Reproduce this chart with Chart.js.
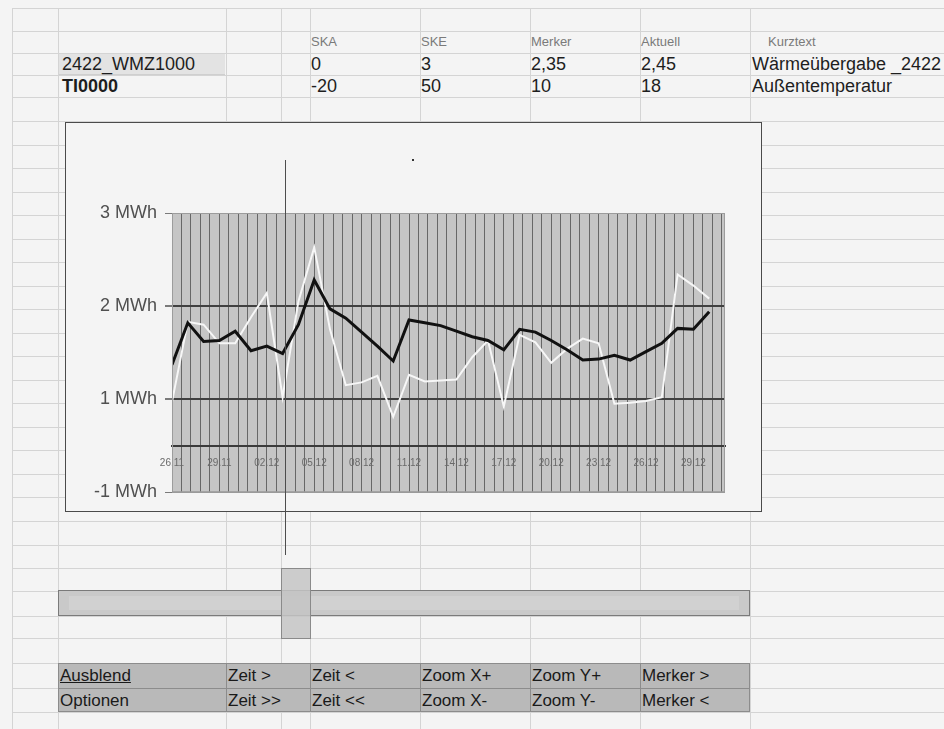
<!DOCTYPE html>
<html>
<head>
<meta charset="utf-8">
<script src="https://cdn.jsdelivr.net/npm/chart.js@4.4.1/dist/chart.umd.min.js"></script>
<style>
  html, body { margin: 0; padding: 0; width: 944px; height: 729px; overflow: hidden; background: #f4f4f4;
    font-family: "Liberation Sans", Arial, sans-serif; }
  #sheet { position: absolute; left: 0; top: 0; width: 944px; height: 729px; }
  .hl { position: absolute; height: 1px; background: #d4d4d4; }
  .vl { position: absolute; width: 1px; background: #d4d4d4; }
  .txt { position: absolute; white-space: nowrap; line-height: 1; color: #1e1e1e; }
  .hdr { font-size: 13px; color: #7a7a7a; }
  .val { font-size: 18px; }
  .sel { position: absolute; left: 59px; top: 54px; width: 166px; height: 20px; background: #e3e3e3;
    border-bottom: 1px solid #cfcfcf; }
  #chartBox { position: absolute; left: 65px; top: 122px; width: 695px; height: 388px;
    border: 1px solid #4a4a4a; background: #f4f4f4; }
  #chartBox canvas { position: absolute; left: 0; top: 0; }
  #cursor { position: absolute; top: 160px; height: 395px; width: 1px; background: #4d4d4d; }
  #dot { position: absolute; left: 412px; top: 159px; width: 2px; height: 2px; background: #333; }
  #scrollBar { position: absolute; left: 58px; top: 590px; width: 690px; height: 24px;
    background: #c9c9c9; border: 1px solid #7a7a7a; }
  #scrollBar div { position: absolute; left: 10px; right: 10px; top: 5px; bottom: 5px; background: #d1d1d1; }
  #thumb { position: absolute; left: 281px; top: 568px; width: 28px; height: 69px;
    background: rgba(196, 196, 196, 0.85); border: 1px solid #8a8a8a; }
  #buttons { position: absolute; left: 58px; top: 663px; width: 692px; height: 49px; background: #b9b9b9; }
  .bl { position: absolute; background: #8c8c8c; }
  .btn { position: absolute; font-size: 17px; color: #1a1a1a; white-space: nowrap; line-height: 1; }
</style>
</head>
<body>
<div id="sheet"></div>
<div class="sel"></div>
<div id="chartBox"><canvas id="c" width="695" height="388"></canvas></div>
<div id="cursor"></div>
<div id="dot"></div>
<div id="scrollBar"><div></div></div>
<div id="thumb"></div>
<div id="buttons"></div>
<script>
// ---- data: daily values from 26.11 to 30.12 (MWh axis units) ----
const dateLabels = ['26.11', '29.11', '02.12', '05.12', '08.12', '11.12',
                    '14.12', '17.12', '20.12', '23.12', '26.12', '29.12'];
const waermeWMZ = [1.37, 1.82, 1.62, 1.63, 1.73, 1.52, 1.57, 1.49, 1.80, 2.28,
                   1.97, 1.87, 1.72, 1.57, 1.41, 1.85, 1.82, 1.79, 1.73, 1.67,
                   1.63, 1.53, 1.75, 1.72, 1.63, 1.53, 1.42, 1.43, 1.47, 1.42,
                   1.51, 1.60, 1.76, 1.75, 1.94];
const aussenTemp = [0.97, 1.83, 1.80, 1.60, 1.60, 1.88, 2.14, 1.02, 2.05, 2.63,
                    1.75, 1.15, 1.18, 1.25, 0.81, 1.26, 1.19, 1.20, 1.21, 1.45,
                    1.63, 0.92, 1.69, 1.61, 1.39, 1.54, 1.65, 1.60, 0.95, 0.96,
                    0.98, 1.02, 2.34, 2.22, 2.08];
const yTickValues = [0, 1, 2, 3];
const yTickLabels = ['-1 MWh', '1 MWh', '2 MWh', '3 MWh'];
const markerDay = 7.13;

// ---- table of the sheet ----
const headerRow = [['SKA', 311], ['SKE', 421], ['Merker', 531], ['Aktuell', 641], ['Kurztext', 768]];
const rowWMZ = [['2422_WMZ1000', 62], ['0', 311], ['3', 421], ['2,35', 531], ['2,45', 641], ['Wärmeübergabe _2422', 752]];
const rowTI = [['TI0000', 62], ['-20', 311], ['50', 421], ['10', 531], ['18', 641], ['Außentemperatur', 752]];
const buttonRow1 = [['Ausblend', 60], ['Zeit >', 228], ['Zeit <', 312], ['Zoom X+', 422], ['Zoom Y+', 532], ['Merker >', 642]];
const buttonRow2 = [['Optionen', 60], ['Zeit >>', 228], ['Zeit <<', 312], ['Zoom X-', 422], ['Zoom Y-', 532], ['Merker <', 642]];

const sheet = document.getElementById('sheet');
const rowLines = [8, 31, 53, 75, 97, 121, 145, 168, 192, 215, 239, 262, 286, 309, 333, 356, 380,
                  403, 427, 450, 474, 497, 521, 545, 568, 591, 616, 638, 663, 688, 712];
const colLines = [12, 58, 226, 281, 310, 420, 530, 640, 750];
rowLines.forEach(y => {
  const d = document.createElement('div');
  d.className = 'hl'; d.style.left = '12px'; d.style.width = '932px'; d.style.top = y + 'px';
  sheet.appendChild(d);
});
colLines.forEach(x => {
  const d = document.createElement('div');
  d.className = 'vl'; d.style.left = x + 'px'; d.style.top = '8px'; d.style.height = '721px';
  sheet.appendChild(d);
});

function putText(list, top, cls, parent, extra) {
  list.forEach(([t, x], i) => {
    const s = document.createElement('div');
    s.className = cls; s.textContent = t;
    s.style.left = x + 'px'; s.style.top = top + 'px';
    if (extra) extra(s, i);
    (parent || document.body).appendChild(s);
  });
}
putText(headerRow, 35, 'txt hdr');
putText(rowWMZ, 55, 'txt val');
putText(rowTI, 77, 'txt val', null, (s, i) => { if (i === 0) s.style.fontWeight = 'bold'; });

// button block
const buttons = document.getElementById('buttons');
[0, 25, 48].forEach(y => {
  const l = document.createElement('div'); l.className = 'bl';
  l.style.left = '0px'; l.style.width = '692px'; l.style.top = y + 'px'; l.style.height = '1px';
  buttons.appendChild(l);
});
[0, 168, 252, 362, 472, 582, 691].forEach(x => {
  const l = document.createElement('div'); l.className = 'bl';
  l.style.left = x + 'px'; l.style.top = '0px'; l.style.width = '1px'; l.style.height = '49px';
  buttons.appendChild(l);
});
putText(buttonRow1, 667, 'btn', null, (s, i) => { if (i === 0) s.style.textDecoration = 'underline'; });
putText(buttonRow2, 692, 'btn');

// ---- chart ----
const toPoints = arr => arr.map((v, i) => ({ x: i, y: v }));

const plotArea = {
  id: 'plotArea',
  beforeDraw(chart) {
    const { ctx, chartArea: a } = chart;
    ctx.save();
    ctx.fillStyle = '#c5c5c5';
    ctx.fillRect(a.left, a.top, a.right - a.left, a.bottom - a.top);
    ctx.restore();
  },
  afterDraw(chart) {
    const { ctx, chartArea: a } = chart;
    ctx.save();
    ctx.strokeStyle = '#9c9c9c';
    ctx.lineWidth = 1;
    ctx.strokeRect(a.left + 0.5, a.top + 0.5, a.right - a.left - 1, a.bottom - a.top - 1);
    ctx.restore();
    // place the marker line on the time axis
    const box = document.getElementById('chartBox');
    const px = chart.scales.x.getPixelForValue(markerDay);
    document.getElementById('cursor').style.left = Math.round(box.offsetLeft + 1 + px) + 'px';
  }
};

new Chart(document.getElementById('c'), {
  type: 'line',
  data: {
    datasets: [
      { label: '2422_WMZ1000', data: toPoints(waermeWMZ), borderColor: '#111111', borderWidth: 3,
        pointRadius: 0, tension: 0, fill: false },
      { label: 'TI0000', data: toPoints(aussenTemp), borderColor: '#f7f7f7', borderWidth: 2,
        pointRadius: 0, tension: 0, fill: false }
    ]
  },
  options: {
    responsive: false,
    animation: false,
    devicePixelRatio: 1,
    layout: { padding: { left: 0, right: 36, top: 90, bottom: 14 } },
    plugins: { legend: { display: false }, tooltip: { enabled: false } },
    scales: {
      x: {
        type: 'linear', min: 0, max: 35,
        position: { y: 0.5 },
        ticks: {
          stepSize: 0.6, includeBounds: false, autoSkip: false, maxRotation: 0, minRotation: 0,
          padding: 12, color: '#6a6a6a',
          font: { family: '"Liberation Sans", Arial, sans-serif', size: 10 },
          callback: (v, i) => (i % 5 === 0 && dateLabels[i / 5]) ? dateLabels[i / 5] : ''
        },
        grid: { color: '#676767', lineWidth: 1, drawTicks: false },
        border: { display: true, color: '#3a3a3a', width: 2 }
      },
      y: {
        min: 0, max: 3,
        afterBuildTicks: scale => { scale.ticks = yTickValues.map(v => ({ value: v })); },
        afterFit: scale => { scale.width = 106; },
        ticks: {
          padding: 8, color: '#505050',
          font: { family: '"Liberation Sans", Arial, sans-serif', size: 18 },
          callback: v => yTickLabels[yTickValues.indexOf(v)]
        },
        grid: {
          color: c => (c.tick && (c.tick.value === 1 || c.tick.value === 2)) ? '#404040' : '#9a9a9a',
          lineWidth: c => (c.tick && (c.tick.value === 1 || c.tick.value === 2)) ? 2 : 1,
          tickColor: '#7a7a7a', tickLength: 7
        },
        border: { display: false }
      }
    }
  },
  plugins: [plotArea]
});
</script>
</body>
</html>
